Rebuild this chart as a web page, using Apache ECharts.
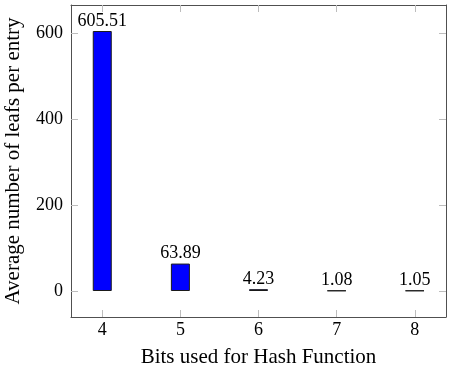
<!DOCTYPE html>
<html>
<head>
<meta charset="utf-8">
<script src="https://cdn.jsdelivr.net/npm/echarts@6/dist/echarts.min.js"></script>
<style>html,body{margin:0;padding:0;background:#fff}#c{width:468px;height:372px}</style>
</head>
<body>
<div id="c"></div>
<script>
const bits = [4, 5, 6, 7, 8];
const leafs = [605.51, 63.89, 4.23, 1.08, 1.05];
const yTicks = [0, 200, 400, 600];
const xLabel = 'Bits used for Hash Function';
const yLabel = 'Average number of leafs per entry';

const FONT = 'Liberation Serif';
const maxV = Math.max(...leafs);
const yMin = -0.1 * maxV, yMax = 1.1 * maxV;
const tickStyle = {show: true, inside: true, length: 7, lineStyle: {color: '#bdbdbd', width: 1}};
const lineStyle = {show: true, onZero: false, lineStyle: {color: '#505050', width: 1}};

const chart = echarts.init(document.getElementById('c'), null, {renderer: 'canvas'});
chart.setOption({
  animation: false,
  grid: {left: 71, right: 22, top: 5, bottom: 55, containLabel: false, outerBoundsMode: 'none'},
  xAxis: [{
    type: 'value', min: 3.6, max: 8.4, position: 'bottom',
    axisLine: lineStyle, axisTick: Object.assign({}, tickStyle, {customValues: bits}),
    axisLabel: {customValues: bits, fontFamily: FONT, fontSize: 18, color: '#000', margin: 4},
    splitLine: {show: false},
    name: xLabel, nameLocation: 'middle', nameGap: 30,
    nameTextStyle: {fontFamily: FONT, fontSize: 21, color: '#000'}
  }, {
    type: 'value', min: 3.6, max: 8.4, position: 'top',
    axisLine: lineStyle, axisTick: Object.assign({}, tickStyle, {customValues: bits}),
    axisLabel: {show: false}, splitLine: {show: false}
  }],
  yAxis: [{
    type: 'value', min: yMin, max: yMax, position: 'left',
    axisLine: lineStyle, axisTick: Object.assign({}, tickStyle, {customValues: yTicks}),
    axisLabel: {customValues: yTicks, fontFamily: FONT, fontSize: 18, color: '#000', margin: 8},
    splitLine: {show: false},
    name: yLabel, nameLocation: 'middle', nameGap: 47,
    nameTextStyle: {fontFamily: FONT, fontSize: 21, color: '#000'}
  }, {
    type: 'value', min: yMin, max: yMax, position: 'right',
    axisLine: lineStyle, axisTick: Object.assign({}, tickStyle, {customValues: yTicks}),
    axisLabel: {show: false}, splitLine: {show: false}
  }],
  series: [{
    type: 'bar',
    xAxisIndex: 0, yAxisIndex: 0,
    barWidth: 19,
    data: bits.map((b, i) => [b, leafs[i]]),
    itemStyle: {color: '#0000ff', borderColor: '#1a1a1a', borderWidth: 1},
    label: {
      show: true, position: 'top', distance: 1,
      fontFamily: FONT, fontSize: 18, color: '#000',
      formatter: p => p.value[1].toFixed(2)
    }
  }]
});
</script>
</body>
</html>
